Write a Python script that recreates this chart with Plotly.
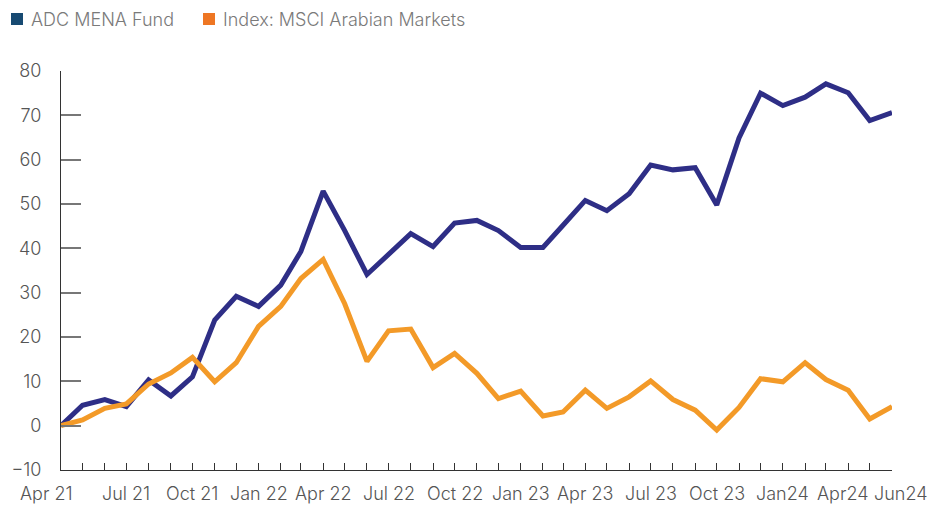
import plotly.graph_objects as go

months = [
    "2021-04", "2021-05", "2021-06", "2021-07", "2021-08", "2021-09", "2021-10", "2021-11", "2021-12",
    "2022-01", "2022-02", "2022-03", "2022-04", "2022-05", "2022-06", "2022-07", "2022-08", "2022-09",
    "2022-10", "2022-11", "2022-12", "2023-01", "2023-02", "2023-03", "2023-04", "2023-05", "2023-06",
    "2023-07", "2023-08", "2023-09", "2023-10", "2023-11", "2023-12", "2024-01", "2024-02", "2024-03",
    "2024-04", "2024-05", "2024-06",
]
fund = [0, 4.6, 5.9, 4.3, 10.3, 6.7, 11.0, 23.8, 29.2, 26.9, 31.7, 39.3, 52.9, 44.0, 34.1, 38.8,
        43.3, 40.4, 45.7, 46.3, 44.0, 40.2, 40.2, 45.2, 50.8, 48.5, 52.3, 58.8, 57.7, 58.2, 49.8,
        64.9, 75.0, 72.2, 74.1, 77.1, 75.1, 68.8, 70.6]
index = [0, 1.3, 3.9, 4.9, 9.4, 11.9, 15.4, 9.9, 14.2, 22.4, 26.9, 33.2, 37.5, 27.5, 14.5, 21.4,
         21.8, 13.1, 16.3, 11.8, 6.1, 7.8, 2.2, 3.1, 8.0, 3.9, 6.5, 10.1, 5.9, 3.5, -1.0, 4.1,
         10.6, 9.9, 14.2, 10.4, 8.0, 1.5, 4.3]
series_names = ["ADC MENA Fund", "Index: MSCI Arabian Markets"]
line_colors = ["#2E2E86", "#F39A28"]
legend_colors = ["#174A72", "#EE7623"]

label_months = ["2021-04", "2021-07", "2021-10", "2022-01", "2022-04", "2022-07", "2022-10",
                "2023-01", "2023-04", "2023-07", "2023-10", "2024-01", "2024-04", "2024-06"]
label_text = ["Apr 21", "Jul 21", "Oct 21", "Jan 22", "Apr 22", "Jul 22", "Oct 22",
              "Jan 23", "Apr 23", "Jul 23", "Oct 23", "Jan24", "Apr24", "Jun24"]
label_shift = [-15, 0, 0, 0, 0, 0, 0, 0, 0, 0, 0, 0, -5, 8]
y_ticks = [-10, 0, 10, 20, 30, 40, 50, 60, 70, 80]

FONT = "Inter"
GREY = "#555555"
LEG_GREY = "#7a7a7a"
FS = 18

fig = go.Figure()
for vals, name, col in zip([fund, index], series_names, line_colors):
    fig.add_trace(go.Scatter(x=months, y=vals, mode="lines", name=name,
                             line=dict(color=col, width=5), showlegend=False))

# x-axis labels
for m, t, s in zip(label_months, label_text, label_shift):
    fig.add_annotation(x=m, y=0, xref="x", yref="paper", text=t, showarrow=False,
                       yanchor="top", yshift=-11, xshift=s,
                       font=dict(family=FONT, size=FS, color=GREY, weight=300))

# legend (square swatch + label), placed in pixels above the plot's top-left corner
leg_sq_x = [-50, 142]
leg_txt_x = [-32, 160]
for name, col, sx, tx in zip(series_names, legend_colors, leg_sq_x, leg_txt_x):
    fig.add_shape(type="rect", xref="paper", yref="paper", xsizemode="pixel", ysizemode="pixel",
                  xanchor=0, yanchor=1, x0=sx, x1=sx + 12, y0=46, y1=58,
                  fillcolor=col, line=dict(width=0))
    fig.add_annotation(x=0, y=1, xref="paper", yref="paper", text=name, showarrow=False,
                       xanchor="left", yanchor="middle", xshift=tx, yshift=52,
                       font=dict(family=FONT, size=FS, color=LEG_GREY, weight=300))

fig.update_layout(
    width=929, height=497,
    margin=dict(l=53, r=45, t=63, b=35, autoexpand=False),
    plot_bgcolor="white", paper_bgcolor="white",
    font=dict(family=FONT, size=FS, color=GREY),
    showlegend=False,
    xaxis=dict(type="date", range=[months[0], months[-1]], tickvals=months,
               ticktext=[""] * len(months), ticks="inside", ticklen=7, tickcolor="#333",
               showline=True, linecolor="#333", linewidth=1, showgrid=False, zeroline=False),
    yaxis=dict(range=[-10, 80], tickvals=y_ticks, ticks="inside", ticklen=20,
               tickcolor="#777", tickwidth=1.5, showline=True, linecolor="#333", linewidth=1,
               showgrid=False, zeroline=False, ticklabelstandoff=15,
               tickfont=dict(family=FONT, size=FS, color=GREY, weight=300)),
)

fig.write_html("out.html")
